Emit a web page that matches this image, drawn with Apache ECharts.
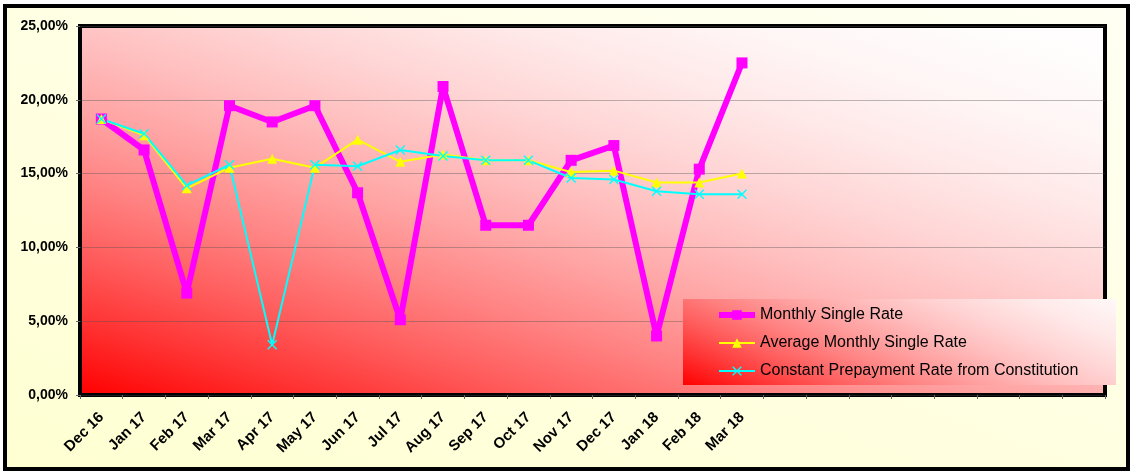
<!DOCTYPE html>
<html>
<head>
<meta charset="utf-8">
<script src="https://cdn.jsdelivr.net/npm/echarts@6/dist/echarts.min.js"></script>
<style>
html,body{margin:0;padding:0;background:#ffffff;}
#chart{width:1130px;height:472px;}
</style>
</head>
<body>
<div id="chart"></div>
<script>
var months = ['Dec 16','Jan 17','Feb 17','Mar 17','Apr 17','May 17','Jun 17','Jul 17','Aug 17','Sep 17','Oct 17','Nov 17','Dec 17','Jan 18','Feb 18','Mar 18'];
var emptySlots = 8;
var monthlySingleRate = [18.7,16.6,6.9,19.6,18.5,19.6,13.7,5.1,20.9,11.5,11.5,15.9,16.9,4.0,15.3,22.5];
var averageMonthlySingleRate = [18.7,17.6,14.0,15.4,16.0,15.4,17.3,15.8,16.3,15.9,15.9,15.1,15.2,14.4,14.4,15.0];
var constantPrepaymentRate = [18.7,17.7,14.2,15.6,3.4,15.6,15.5,16.6,16.2,15.9,15.9,14.7,14.6,13.8,13.6,13.6];

var categories = months.slice();
for (var i = 0; i < emptySlots; i++) categories.push('');

var FONT = '"Liberation Sans", Arial, sans-serif';
var chart = echarts.init(document.getElementById('chart'), null, {renderer:'canvas'});

// red -> white ramp, eased (fast lightening near the red corner)
function redWhiteStops() {
  var stops = [];
  for (var k = 0; k <= 10; k++) {
    var s = k / 10;
    var w = 1 - (1 - s) * (1 - s);
    var c = Math.round(255 * w);
    stops.push({offset: s, color: 'rgb(255,' + c + ',' + c + ')'});
  }
  return stops;
}
var plotGradient = new echarts.graphic.LinearGradient(80, 395, 279, -252, redWhiteStops(), true);
var legendGradient = new echarts.graphic.LinearGradient(683, 385, 802, 107, redWhiteStops(), true);
var pageGradient = new echarts.graphic.LinearGradient(5, 469, 300, -400,
  [{offset:0, color:'#ffffd2'},{offset:1, color:'#fffff8'}], true);

var xSymbol = 'path://M0,1 L1,0 L5,4 L9,0 L10,1 L6,5 L10,9 L9,10 L5,6 L1,10 L0,9 L4,5 Z';

chart.setOption({
  animation: false,
  graphic: [
    {type:'rect', z:-10, shape:{x:5, y:6, width:1123, height:463},
     style:{fill:pageGradient, stroke:'#000', lineWidth:4}},
    {type:'rect', z:-5, shape:{x:80, y:26, width:1025, height:369},
     style:{fill:plotGradient}},
    {type:'rect', z:10, shape:{x:683, y:299, width:433, height:86},
     style:{fill:legendGradient}}
  ],
  grid: {
    left: 80, right: 25, top: 26, bottom: 77,
    show: true,
    backgroundColor: 'transparent',
    borderColor: '#000',
    borderWidth: 4
  },
  legend: {
    z: 20,
    orient: 'vertical',
    left: 716, top: 307, padding: 0,
    itemWidth: 36, itemHeight: 12, itemGap: 12,
    textStyle: {fontFamily: FONT, fontSize: 16, color:'#000', lineHeight: 16},
    data: [
      {name:'Monthly Single Rate', lineStyle:{width:6, color:'#ff00ff'}},
      {name:'Average Monthly Single Rate', lineStyle:{width:2, color:'#ffff00'}},
      {name:'Constant Prepayment Rate from Constitution', lineStyle:{width:2, color:'#00ffff'}}
    ]
  },
  xAxis: {
    type: 'category',
    data: categories,
    boundaryGap: true,
    axisLine: {show: false},
    axisTick: {show: true, length: 4, interval: 0, lineStyle:{color:'#666'}},
    axisLabel: {interval: 0, rotate: 45, margin: 20, fontFamily: FONT, fontSize: 15, fontWeight: 'bold', color: '#000'},
    splitLine: {show: false}
  },
  yAxis: {
    type: 'value',
    min: 0, max: 25, interval: 5,
    axisLine: {show: false},
    axisTick: {show: true, length: 4, lineStyle:{color:'#666'}},
    axisLabel: {margin: 12, fontFamily: FONT, fontSize: 14, fontWeight: 'bold', color: '#000',
      formatter: function(v){ return v.toFixed(2).replace('.', ',') + '%'; }},
    splitLine: {show: true, lineStyle: {color: 'rgba(80,80,80,0.38)', width: 1}}
  },
  series: [
    {
      name: 'Monthly Single Rate', type: 'line', data: monthlySingleRate,
      symbol: 'rect', symbolSize: 11, showAllSymbol: true,
      lineStyle: {color: '#ff00ff', width: 6},
      itemStyle: {color: '#ff00ff'}
    },
    {
      name: 'Average Monthly Single Rate', type: 'line', data: averageMonthlySingleRate,
      symbol: 'triangle', symbolSize: 10, showAllSymbol: true,
      lineStyle: {color: '#ffff00', width: 2},
      itemStyle: {color: '#ffff00'}
    },
    {
      name: 'Constant Prepayment Rate from Constitution', type: 'line', data: constantPrepaymentRate,
      symbol: xSymbol, symbolSize: 10, showAllSymbol: true,
      lineStyle: {color: '#00ffff', width: 2},
      itemStyle: {color: '#00ffff'}
    }
  ]
});
</script>
</body>
</html>
